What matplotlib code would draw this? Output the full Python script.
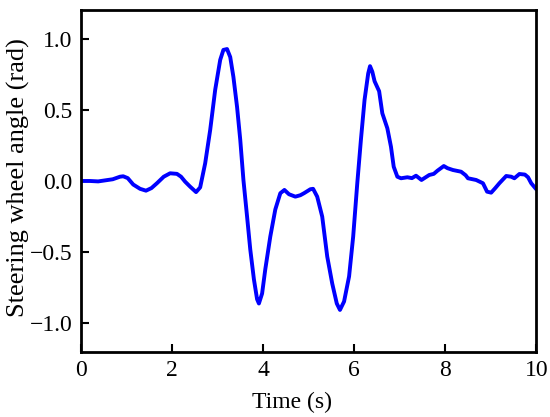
"""Steering wheel angle over time."""

import matplotlib
matplotlib.use("Agg")
import matplotlib.pyplot as plt

# traced from the recorded steering signal
time_s = [
    0.00, 0.20, 0.38, 0.55, 0.70, 0.86, 0.93, 1.03, 1.15, 1.30, 1.43, 1.55,
    1.67, 1.82, 1.96, 2.11, 2.20, 2.29, 2.40, 2.53, 2.62, 2.73, 2.84, 2.95,
    3.06, 3.13, 3.21, 3.28, 3.35, 3.43, 3.50, 3.57, 3.65, 3.72, 3.80, 3.87,
    3.91, 3.98, 4.05, 4.16, 4.27, 4.38, 4.47, 4.57, 4.71, 4.82, 4.90, 5.04,
    5.10, 5.19, 5.30, 5.41, 5.52, 5.62, 5.69, 5.78, 5.89, 5.98, 6.07, 6.15,
    6.23, 6.31, 6.35, 6.40, 6.45, 6.55, 6.62, 6.73, 6.81, 6.87, 6.95, 7.03,
    7.17, 7.27, 7.36, 7.48, 7.65, 7.75, 7.83, 7.97, 8.05, 8.17, 8.35, 8.45,
    8.50, 8.68, 8.83, 8.92, 9.01, 9.10, 9.19, 9.34, 9.45, 9.52, 9.63, 9.75,
    9.82, 9.89, 10.00,
]
angle_rad = [
    0.000, 0.000, -0.003, 0.005, 0.012, 0.030, 0.033, 0.020, -0.025, -0.055,
    -0.068, -0.050, -0.016, 0.030, 0.054, 0.050, 0.030, -0.005, -0.040,
    -0.078, -0.045, 0.124, 0.358, 0.640, 0.850, 0.920, 0.926, 0.870, 0.730,
    0.520, 0.290, 0.007, -0.250, -0.480, -0.690, -0.830, -0.860, -0.790,
    -0.620, -0.390, -0.200, -0.086, -0.063, -0.093, -0.110, -0.100, -0.086,
    -0.058, -0.055, -0.110, -0.250, -0.530, -0.720, -0.860, -0.905, -0.846,
    -0.670, -0.390, -0.016, 0.290, 0.570, 0.755, 0.806, 0.767, 0.700, 0.630,
    0.475, 0.370, 0.240, 0.100, 0.030, 0.019, 0.026, 0.020, 0.037, 0.007,
    0.042, 0.050, 0.072, 0.105, 0.090, 0.077, 0.065, 0.040, 0.019, 0.007,
    -0.016, -0.075, -0.082, -0.050, -0.016, 0.035, 0.030, 0.019, 0.049,
    0.045, 0.026, -0.016, -0.058,
]
x_ticks = [0, 2, 4, 6, 8, 10]
y_ticks = [-1.0, -0.5, 0.0, 0.5, 1.0]

plt.rcParams["font.family"] = [
    "Liberation Serif", "Times New Roman", "Nimbus Roman", "STIXGeneral", "DejaVu Serif",
]

fig = plt.figure(figsize=(5.5, 4.17), dpi=100)
ax = fig.add_axes([0.147, 0.156, 0.828, 0.82])

ax.plot(time_s, angle_rad, color="#0000ff", linewidth=2.8,
        solid_joinstyle="round", solid_capstyle="round")

ax.set_xlim(0, 10)
ax.set_ylim(-1.2, 1.2)
ax.set_xticks(x_ticks)
ax.set_yticks(y_ticks)
ax.set_xticklabels([str(t) for t in x_ticks])
ax.set_yticklabels([f"{v:.1f}".replace("-", "\u2212") for v in y_ticks])
ax.tick_params(direction="in", length=6, width=1.5, labelsize=17, pad=6)

for spine in ax.spines.values():
    spine.set_linewidth(2)

ax.set_xlabel("Time (s)", fontsize=17)
ax.set_ylabel("Steering wheel angle (rad)", fontsize=19)
ax.xaxis.set_label_coords(0.464, -0.118)
ax.yaxis.set_label_coords(-0.112, 0.51)

fig.savefig("out.png", dpi=100)
